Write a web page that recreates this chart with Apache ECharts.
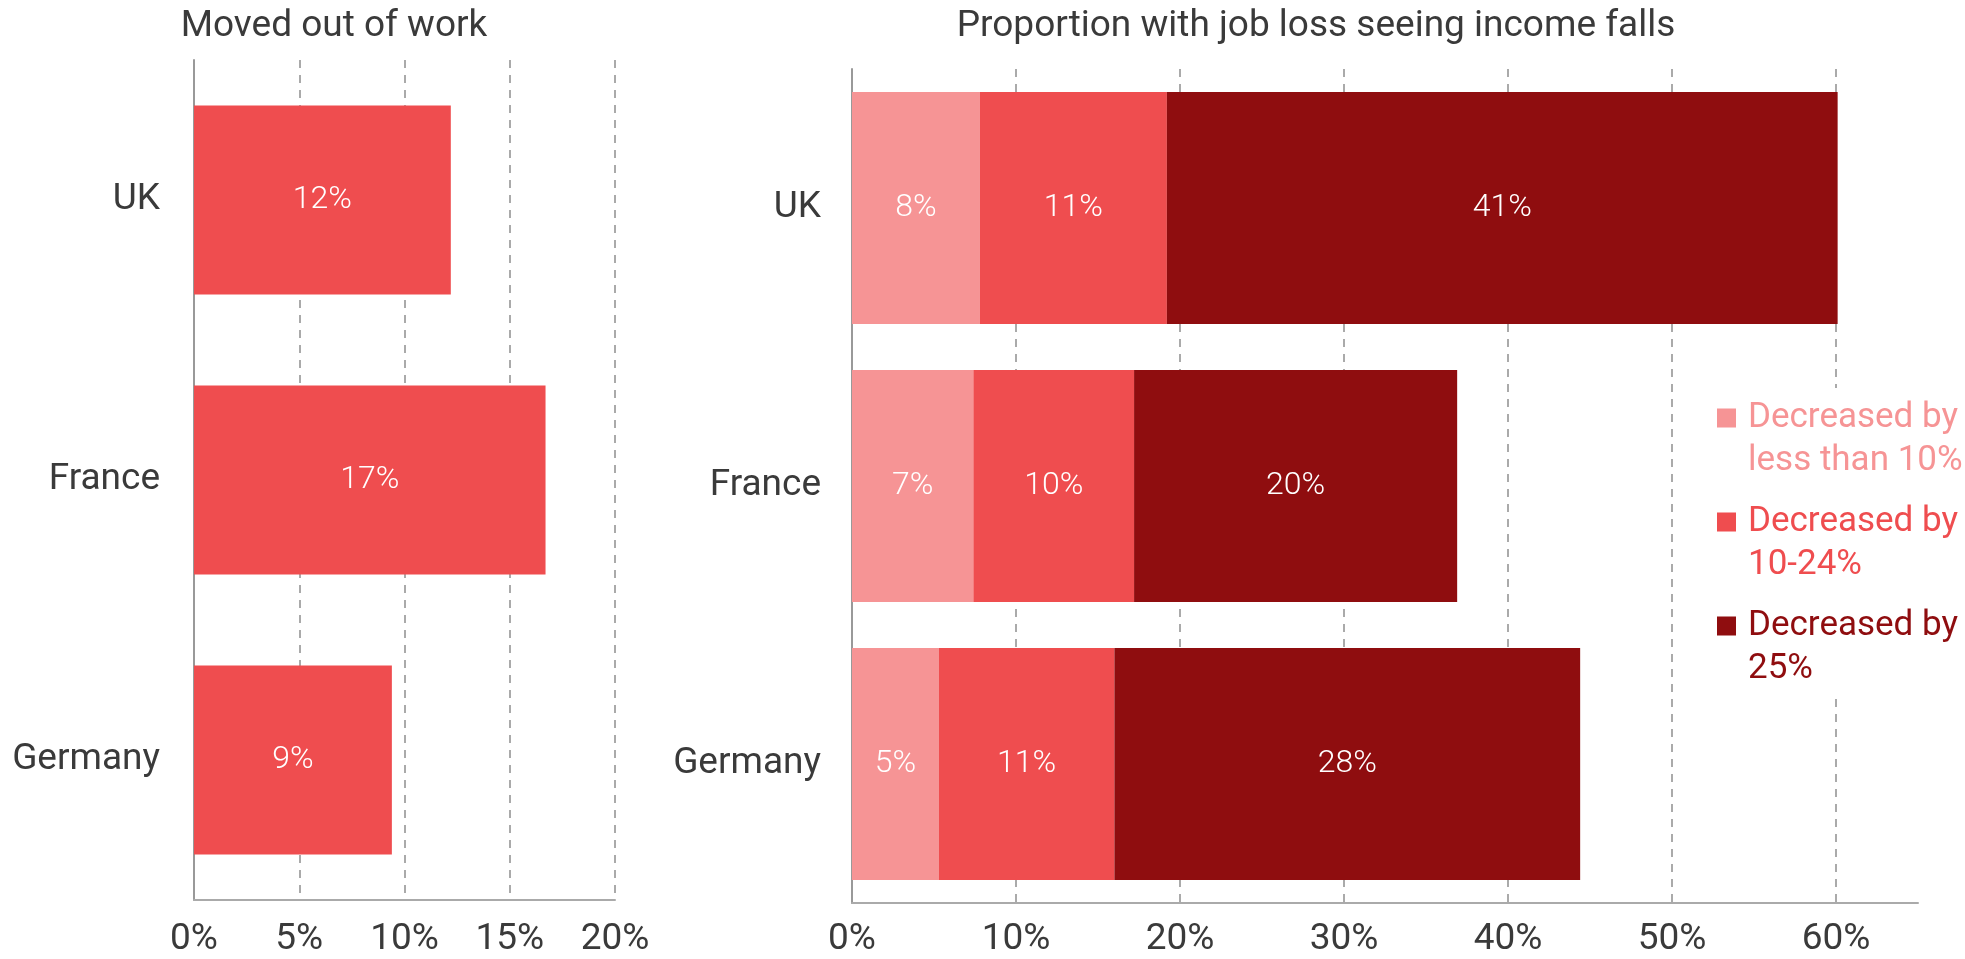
<!DOCTYPE html>
<html>
<head>
<meta charset="utf-8">
<script src="https://cdn.jsdelivr.net/npm/echarts@6/dist/echarts.min.js"></script>
<style>
html,body{margin:0;padding:0;background:#fff;}
#chart{width:1965px;height:959px;}
</style>
</head>
<body>
<div id="chart"></div>
<script>
// ---- data ----
const countries = ["UK", "France", "Germany"];
const movedOutOfWork = [12.2, 16.7, 9.4];
const seriesNames = ["Decreased by\nless than 10%", "Decreased by\n10-24%", "Decreased by\n25%"];
const lessThan10 = [7.8, 7.4, 5.3];
const from10to24 = [11.4, 9.8, 10.7];
const over25 = [40.9, 19.7, 28.4];
const leftTicks = [0, 5, 10, 15, 20];
const rightTicks = [0, 10, 20, 30, 40, 50, 60];
const leftTitle = "Moved out of work";
const rightTitle = "Proportion with job loss seeing income falls";

const colors = ["#F69495", "#EF4D4F", "#8F0D0F"];
const font = "Roboto";
const textColor = "#3a3a3a";

const gridLine = {show: true, lineStyle: {color: "#aaaaaa", width: 2, type: [8, 7]}};

function label() {
  return {
    show: true, position: "inside", color: "#fff", fontFamily: font, fontSize: 32, fontWeight: 300,
    formatter: p => Math.round(p.value) + "%"
  };
}

// legend icon: 19px square at top-left of a 26x63 box, so text first line aligns with square
const legendIcon = "path://M0,0L19,0L19,19L0,19Z M25.9,62.9L26,62.9L26,63L25.9,63Z";

const chart = echarts.init(document.getElementById("chart"), null, {renderer: "canvas"});
const rightData = [lessThan10, from10to24, over25];

const option = {
  animation: false,
  backgroundColor: "#fff",
  textStyle: {fontFamily: font},
  grid: [
    {left: 194, right: 1965 - 615, top: 60, bottom: 959 - 900, containLabel: false},
    {left: 852, right: 1965 - 1918, top: 69, bottom: 959 - 903, containLabel: false}
  ],
  xAxis: [
    {
      type: "value", gridIndex: 0, min: leftTicks[0], max: leftTicks[leftTicks.length - 1], interval: 5,
      axisLine: {show: true, lineStyle: {color: "#aaaaaa", width: 2}},
      axisTick: {show: false},
      splitLine: Object.assign({showMinLine: false, showMaxLine: true}, gridLine),
      axisLabel: {color: textColor, fontSize: 37, fontFamily: font, margin: 21, formatter: v => v + "%"}
    },
    {
      type: "value", gridIndex: 1, min: rightTicks[0], max: 65, interval: 10,
      axisLine: {show: true, lineStyle: {color: "#aaaaaa", width: 2}},
      axisTick: {show: false},
      splitLine: Object.assign({showMinLine: false, showMaxLine: false}, gridLine),
      axisLabel: {color: textColor, fontSize: 37, fontFamily: font, margin: 18,
        formatter: v => rightTicks.indexOf(v) >= 0 ? v + "%" : "", showMaxLabel: false}
    }
  ],
  yAxis: [
    {
      type: "category", gridIndex: 0, data: countries, inverse: true,
      axisLine: {show: true, lineStyle: {color: "#999999", width: 2}},
      axisTick: {show: false},
      axisLabel: {color: textColor, fontSize: 37, fontFamily: font, margin: 34}
    },
    {
      type: "category", gridIndex: 1, data: countries, inverse: true,
      axisLine: {show: true, lineStyle: {color: "#999999", width: 2}},
      axisTick: {show: false},
      axisLabel: {color: textColor, fontSize: 37, fontFamily: font, margin: 31}
    }
  ],
  legend: {
    orient: "vertical",
    left: 1697, top: 388,
    padding: [9, 10, 2, 20],
    itemWidth: 26, itemHeight: 63,
    itemGap: 18,
    icon: legendIcon,
    backgroundColor: "#fff",
    selectedMode: false,
    data: seriesNames.map((n, i) => ({name: n, textStyle: {color: colors[i]}})),
    textStyle: {fontFamily: font, fontSize: 35, lineHeight: 43}
  },
  series: [
    {
      name: leftTitle, type: "bar", xAxisIndex: 0, yAxisIndex: 0,
      data: movedOutOfWork, barWidth: "67.5%",
      itemStyle: {color: colors[1]},
      label: label()
    }
  ].concat(seriesNames.map((n, i) => ({
    name: n, type: "bar", xAxisIndex: 1, yAxisIndex: 1, stack: "income",
    data: rightData[i], barWidth: "83.5%",
    itemStyle: {color: colors[i]},
    label: label()
  }))),
  graphic: [
    {type: "text", x: 334, y: 27, style: {text: leftTitle, fill: textColor, font: "37px " + font, textAlign: "center", textVerticalAlign: "middle"}},
    {type: "text", x: 1316, y: 27, style: {text: rightTitle, fill: textColor, font: "37px " + font, textAlign: "center", textVerticalAlign: "middle"}}
  ]
};
chart.setOption(option);
</script>
</body>
</html>
